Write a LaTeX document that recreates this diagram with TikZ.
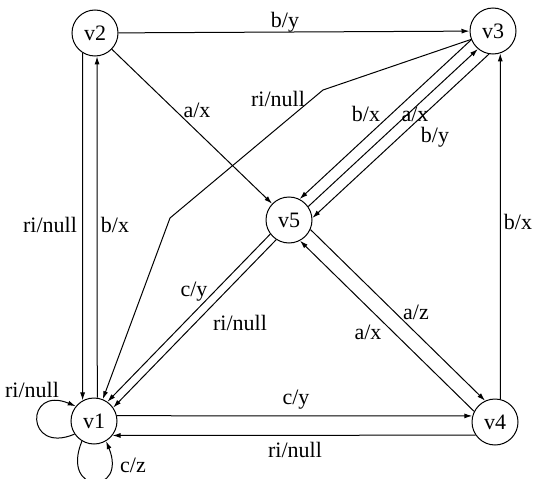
\documentclass[tikz,border=0pt]{standalone}
\usepackage{fontspec}
\setmainfont{Liberation Serif}
\usetikzlibrary{arrows.meta}

\begin{document}
\begin{tikzpicture}[x=1pt,y=1pt,font=\fontsize{22}{24}\selectfont,
    state/.style={draw,circle,minimum size=46pt,inner sep=0pt,line width=1pt},
    trans/.style={-{Latex[length=8pt,width=5pt]},line width=1pt}]
  \useasboundingbox (0,0) rectangle (533,-479);
  % states
  \foreach \n/\x/\y in {v1/94/421, v2/95/33, v3/493/31, v4/495/422, v5/289/220}
    \node[state] (\n) at (\x,-\y) {\n};
  % straight transitions (from anchor / to anchor)
  \foreach \a/\b in {v2/v3, v2/v5, v2.238/v1.119, v1.82/v2.275,
      v3.202/v5.63, v5.35/v3.230, v3.260/v5.5,
      v5.217/v1.55, v5.237/v1.35,
      v5.336/v4.115, v4.153/v5.298,
      v1.13/v4.165, v4.214/v1.322, v4.77/v3.288}
    \draw[trans] (\a) -- (\b);
  % ri/null from v3 with two bends
  \coordinate (b1) at (323,-90);
  \coordinate (b2) at (170,-218);
  \draw[trans] (v3.201) -- (b1) -- (b2) -- (v1.68);
  % self loops on v1
  \draw[trans] (v1.214) .. controls (25,-455) and (25,-385) .. (v1.141);
  \draw[trans] (v1.239) .. controls (60,-495) and (128,-495) .. (v1.301);
  % labels
  \foreach \n/\x/\y/\t in {l23/285/22/b\slash y, l25/197/110/a\slash x,
      l31/278/99/ri\slash null, l21/50/225/ri\slash null, l12/115/225/b\slash x,
      l35a/366/114/b\slash x, l53/415/114/a\slash x, l35b/435/137/b\slash y,
      l51a/194/292/c\slash y, l51b/240/323/ri\slash null,
      l54/416/312/a\slash z, l45/368/332/a\slash x,
      l14/296/400/c\slash y, l41/295/450/ri\slash null, l43/518/222/b\slash x,
      l11a/32/390/ri\slash null, l11b/133/465/c\slash z}
    \node[inner sep=1pt] (\n) at (\x,-\y) {\t};
\end{tikzpicture}
\end{document}
